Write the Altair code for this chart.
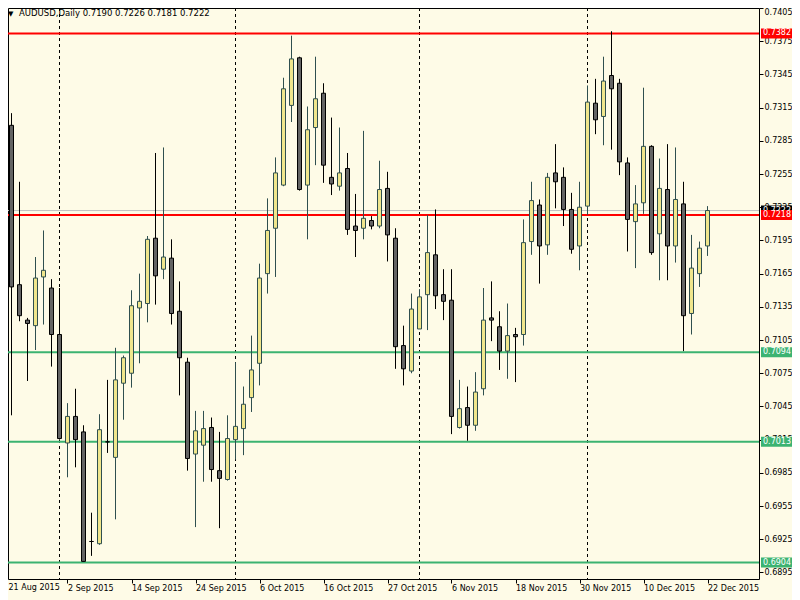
import altair as alt
import pandas as pd

# ---- data (AUDUSD daily) ----
open_ = [0.7335, 0.7299, 0.7155, 0.7123, 0.7118, 0.7162, 0.7152, 0.7110, 0.7012, 0.7036,
         0.7022, 0.6923, 0.6921, 0.7013, 0.6999, 0.7066, 0.7075, 0.7134, 0.7138, 0.7197,
         0.7169, 0.7179, 0.7131, 0.7085, 0.7002, 0.7010, 0.7026, 0.6987, 0.6979, 0.7015,
         0.7025, 0.7053, 0.7084, 0.7165, 0.7206, 0.7245, 0.7317, 0.7360, 0.7245, 0.7297,
         0.7328, 0.7252, 0.7244, 0.7260, 0.7208, 0.7206, 0.7213, 0.7208, 0.7242, 0.7197,
         0.7100, 0.7077, 0.7115, 0.7146, 0.7182, 0.7146, 0.7141, 0.7026, 0.7044, 0.7028,
         0.7061, 0.7125, 0.7117, 0.7095, 0.7110, 0.7110, 0.7194, 0.7227, 0.7191, 0.7256,
         0.7252, 0.7223, 0.7190, 0.7226, 0.7319, 0.7307, 0.7344, 0.7337, 0.7265, 0.7212,
         0.7229, 0.7280, 0.7201, 0.7241, 0.7190, 0.7228, 0.7129, 0.7165, 0.7190]
high = [0.7359, 0.7310, 0.7248, 0.7125, 0.7180, 0.7204, 0.7160, 0.7152, 0.7048, 0.7061,
        0.7028, 0.6949, 0.7038, 0.7069, 0.7098, 0.7091, 0.7150, 0.7165, 0.7199, 0.7274,
        0.7279, 0.7196, 0.7158, 0.7089, 0.7041, 0.7041, 0.7035, 0.7022, 0.7037, 0.7085,
        0.7063, 0.7109, 0.7174, 0.7233, 0.7270, 0.7342, 0.7380, 0.7361, 0.7316, 0.7361,
        0.7337, 0.7306, 0.7297, 0.7274, 0.7237, 0.7294, 0.7217, 0.7267, 0.7257, 0.7206,
        0.7118, 0.7147, 0.7151, 0.7218, 0.7223, 0.7169, 0.7169, 0.7069, 0.7063, 0.7076,
        0.7152, 0.7158, 0.7131, 0.7138, 0.7116, 0.7214, 0.7248, 0.7232, 0.7256, 0.7282,
        0.7261, 0.7238, 0.7248, 0.7335, 0.7341, 0.7361, 0.7384, 0.7341, 0.7270, 0.7245,
        0.7333, 0.7281, 0.7269, 0.7282, 0.7279, 0.7248, 0.7200, 0.7194, 0.7226]
low = [0.7284, 0.7037, 0.7122, 0.7068, 0.7096, 0.7119, 0.7081, 0.7015, 0.6981, 0.6990,
       0.6905, 0.6910, 0.6920, 0.7003, 0.6943, 0.7033, 0.7062, 0.7084, 0.7121, 0.7137,
       0.7160, 0.7119, 0.7055, 0.6987, 0.6936, 0.6977, 0.6977, 0.6935, 0.6978, 0.6997,
       0.7001, 0.7040, 0.7064, 0.7147, 0.7162, 0.7244, 0.7302, 0.7240, 0.7196, 0.7263,
       0.7247, 0.7236, 0.7240, 0.7200, 0.7180, 0.7196, 0.7205, 0.7206, 0.7176, 0.7079,
       0.7064, 0.7075, 0.7115, 0.7114, 0.7133, 0.7123, 0.7020, 0.7025, 0.7014, 0.7023,
       0.7055, 0.7104, 0.7078, 0.7070, 0.7067, 0.7100, 0.7182, 0.7156, 0.7182, 0.7224,
       0.7208, 0.7183, 0.7168, 0.7218, 0.7291, 0.7281, 0.7277, 0.7254, 0.7185, 0.7170,
       0.7219, 0.7182, 0.7159, 0.7159, 0.7175, 0.7095, 0.7110, 0.7153, 0.7181]
close = [0.7308, 0.7153, 0.7127, 0.7120, 0.7161, 0.7168, 0.7110, 0.7016, 0.7036, 0.7015,
         0.6905, 0.6923, 0.7024, 0.7013, 0.7069, 0.7089, 0.7136, 0.7140, 0.7196, 0.7163,
         0.7180, 0.7129, 0.7089, 0.6998, 0.7023, 0.7025, 0.6988, 0.6980, 0.7016, 0.7027,
         0.7047, 0.7078, 0.7161, 0.7204, 0.7256, 0.7332, 0.7359, 0.7241, 0.7295, 0.7323,
         0.7263, 0.7246, 0.7256, 0.7205, 0.7204, 0.7215, 0.7208, 0.7241, 0.7200, 0.7099,
         0.7079, 0.7133, 0.7144, 0.7184, 0.7145, 0.7140, 0.7036, 0.7043, 0.7028, 0.7058,
         0.7123, 0.7123, 0.7095, 0.7109, 0.7108, 0.7193, 0.7231, 0.7190, 0.7252, 0.7248,
         0.7223, 0.7187, 0.7225, 0.7320, 0.7304, 0.7339, 0.7332, 0.7266, 0.7214, 0.7228,
         0.7280, 0.7184, 0.7242, 0.7190, 0.7232, 0.7127, 0.7170, 0.7188, 0.7222]

date_labels = ["21 Aug 2015", "2 Sep 2015", "14 Sep 2015", "24 Sep 2015", "6 Oct 2015",
               "16 Oct 2015", "27 Oct 2015", "6 Nov 2015", "18 Nov 2015", "30 Nov 2015",
               "10 Dec 2015", "22 Dec 2015"]
date_positions = [0, 8, 16, 24, 32, 40, 48, 56, 64, 72, 80, 88]
month_starts = [7, 29, 52, 73]
price_ticks = [0.6895, 0.6925, 0.6955, 0.6985, 0.7015, 0.7045, 0.7075, 0.7105, 0.7135,
               0.7165, 0.7195, 0.7225, 0.7255, 0.7285, 0.7315, 0.7345, 0.7375, 0.7405]
levels = [0.7382, 0.7218, 0.7094, 0.7013, 0.6904]
level_colors = ["#FF0000", "#FF0000", "#3CB371", "#3CB371", "#3CB371"]
bid_price = [0.7222]

FONT = "DejaVu Sans"
BG = "#FEFBE7"

n = len(open_)
candles = pd.DataFrame({
    "i": list(range(n)), "o": open_, "h": high, "l": low, "c": close,
})
candles["dir"] = ["bull" if c > o else "bear" for o, c in zip(open_, close)]

xs = alt.Scale(domain=[0.5625, 94.4375], nice=False, zero=False, padding=0)
ys = alt.Scale(domain=[0.68891, 0.7405], nice=False, zero=False, padding=0)

label_expr = "[" + ",".join("'%s'" % d for d in date_labels) + "][datum.value/8]"

x_axis = alt.Axis(values=date_positions, labelExpr=label_expr, orient="bottom",
                  labelAlign="left", labelBaseline="top", tickSize=4, labelPadding=1,
                  domain=False, grid=False, title=None, labelFont=FONT, labelFontSize=8,
                  labelColor="black", tickColor="black", labelOverlap=False,
                  labelBound=False, zindex=1)
y_axis = alt.Axis(values=price_ticks, format=".4f", orient="right", tickSize=4,
                  labelPadding=1, domain=False, grid=False, title=None, labelFont=FONT,
                  labelFontSize=8, labelColor="black", tickColor="black",
                  labelOverlap=False, labelFlush=True, zindex=0)


def X(field):
    return alt.X(field, scale=xs, axis=x_axis, title=None)


def Y(field):
    return alt.Y(field, scale=ys, axis=y_axis, title=None)


base = alt.Chart(candles)

months = alt.Chart(pd.DataFrame({"m": month_starts})).mark_rule(
    color="black", strokeWidth=1, strokeDash=[3, 3]
).encode(x=X("m:Q"))

lvl_df = pd.DataFrame({"p": levels, "col": level_colors})
bid_df = pd.DataFrame({"p": bid_price, "col": ["#000000"]})

bid_line = alt.Chart(bid_df).mark_rule(color="#C0C0C0", strokeWidth=1).encode(y=Y("p:Q"))
lvl_lines = alt.Chart(lvl_df).mark_rule(strokeWidth=2).encode(
    y=Y("p:Q"), color=alt.Color("col:N", scale=None))

wicks = base.mark_rule(strokeWidth=1).encode(
    x=X("i:Q"),
    y=Y("l:Q"),
    y2="h:Q",
    color=alt.Color("dir:N", scale=alt.Scale(domain=["bull", "bear"],
                                             range=["#2F4F4F", "#000000"]), legend=None),
)
bodies = base.mark_bar(width=4, strokeWidth=1, orient="vertical").encode(
    x=X("i:Q"),
    y=Y("o:Q"),
    y2="c:Q",
    fill=alt.Fill("dir:N", scale=alt.Scale(domain=["bull", "bear"],
                                           range=["#F0E68C", "#646464"]), legend=None),
    stroke=alt.Stroke("dir:N", scale=alt.Scale(domain=["bull", "bear"],
                                               range=["#2F4F4F", "#000000"]), legend=None),
)

# first date label: its tick sits just left of the visible plot edge
first_lbl = alt.Chart(pd.DataFrame({"i": [date_positions[0]], "t": [date_labels[0]]})).mark_text(
    align="left", baseline="top", font=FONT, fontSize=8, color="black", dx=5
).encode(x=X("i:Q"), y=alt.value(576), text="t:N")


def price_box(df):
    box = alt.Chart(df).mark_rect(yOffset=-5, y2Offset=5).encode(
        x=alt.value(753), x2=alt.value(800),
        y=Y("p:Q"), y2="p:Q",
        color=alt.Color("col:N", scale=None))
    txt = alt.Chart(df).mark_text(align="left", baseline="middle", font=FONT,
                                  fontSize=8, color="white").encode(
        x=alt.value(755), y=Y("p:Q"),
        text=alt.Text("p:Q", format=".4f"))
    return box + txt


header_df = pd.DataFrame({"t": ["AUDUSD,Daily  %.4f %.4f %.4f %.4f"
                                % (open_[-1], high[-1], low[-1], close[-1])]})
header = alt.Chart(header_df).mark_text(align="left", baseline="top", font=FONT,
                                        fontSize=8.5, color="#000000").encode(
    x=alt.value(11), y=alt.value(1), text="t:N")
tri = alt.Chart(pd.DataFrame({"s": ["\u25bc"]})).mark_text(
    align="left", baseline="top", fontSize=7, color="#000000", font="DejaVu Sans").encode(
    x=alt.value(0), y=alt.value(2), text="s:N")

chart = alt.layer(
    months, bid_line, lvl_lines, wicks, bodies, first_lbl,
    price_box(bid_df), price_box(lvl_df), tri, header
).properties(
    width=751, height=571,
    autosize=alt.AutoSizeParams(type="none"),
    padding={"left": 0, "top": 0, "right": 33, "bottom": 21},
    background=BG,
).configure_view(
    fill=BG, stroke="black", strokeWidth=1
)

chart.save("out.html", embed_options={"renderer": "svg", "actions": False})
